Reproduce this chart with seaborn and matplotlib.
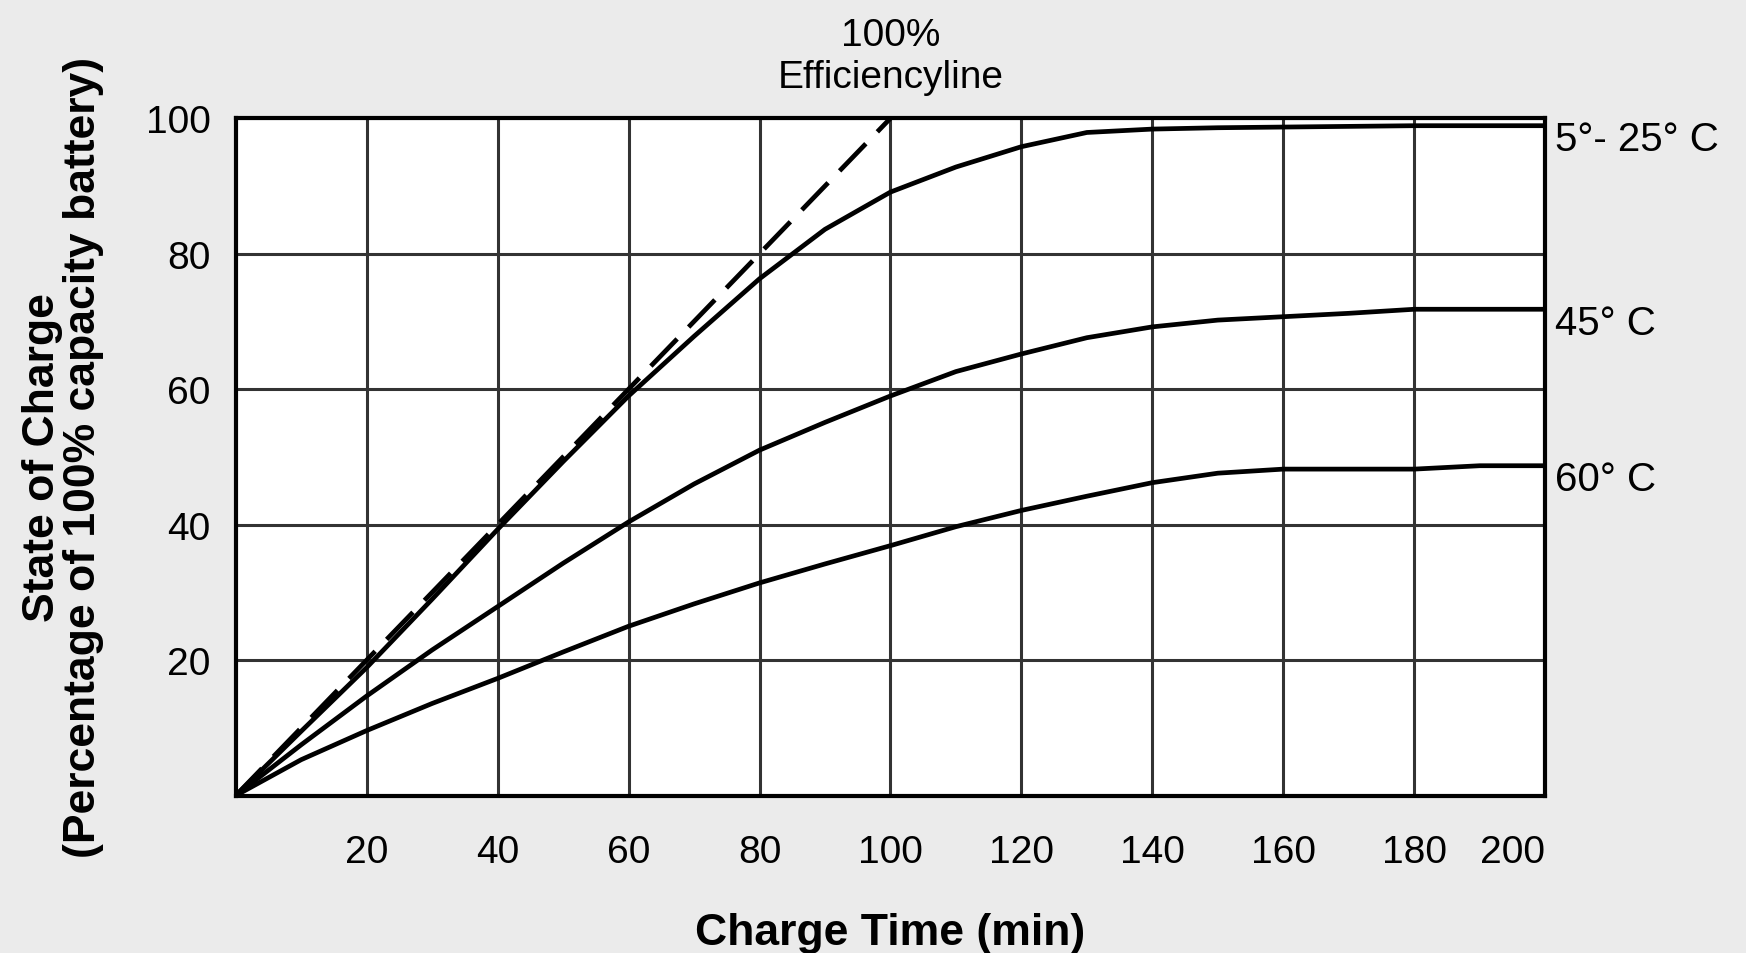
import pandas as pd
import seaborn as sns
import matplotlib.pyplot as plt

# charge time (min) and state of charge (%)
time_pts = [0, 10, 20, 30, 40, 50, 60, 70, 80, 90, 100, 110, 120, 130, 140, 150, 160, 170, 180, 190, 200]
soc_5_25 = [0, 9.5, 18.9, 29, 39.3, 49.3, 59, 67.8, 76.3, 83.6, 89.1, 92.8, 95.8, 97.9, 98.4, 98.6, 98.7, 98.8, 98.9, 98.9, 98.9]
soc_45 = [0, 7.5, 14.7, 21.5, 27.9, 34.3, 40.4, 46, 51, 55.1, 59, 62.6, 65.2, 67.6, 69.2, 70.2, 70.7, 71.2, 71.8, 71.8, 71.8]
soc_60 = [0, 5.3, 9.6, 13.6, 17.3, 21.2, 25, 28.3, 31.4, 34.2, 36.9, 39.7, 42.1, 44.2, 46.2, 47.6, 48.2, 48.2, 48.2, 48.7, 48.7]
series_names = ["5°- 25° C", "45° C", "60° C"]

eff_time = [0, 100]
eff_soc = [0, 100]

x_ticks = [20, 40, 60, 80, 100, 120, 140, 160, 180, 200]
y_ticks = [20, 40, 60, 80, 100]

df = pd.DataFrame({
    "time": time_pts * 3,
    "soc": soc_5_25 + soc_45 + soc_60,
    "temp": [n for n in series_names for _ in time_pts],
})

sns.set_style("white")
plt.rcParams["font.family"] = ["Liberation Sans", "DejaVu Sans"]
plt.rcParams["text.color"] = "black"
plt.rcParams["axes.labelcolor"] = "black"
plt.rcParams["xtick.color"] = "black"
plt.rcParams["ytick.color"] = "black"

fig = plt.figure(figsize=(17.46, 9.54), dpi=100, facecolor="#ebebeb")
ax = fig.add_axes([0.135, 0.165, 0.75, 0.71])
ax.set_facecolor("white")

sns.lineplot(data=df, x="time", y="soc", units="temp", estimator=None,
             color="black", linewidth=3.4, ax=ax, legend=False)
sns.lineplot(x=eff_time, y=eff_soc, color="black", linewidth=3.4, ax=ax, legend=False)
ax.lines[-1].set_dashes([8, 3.5])

ax.set_xlim(0, 200)
ax.set_ylim(0, 100)
ax.set_xticks(x_ticks)
ax.set_yticks(y_ticks)
ax.set_xticklabels([str(v) for v in x_ticks], fontsize=28)
ax.set_yticklabels([str(v) for v in y_ticks], fontsize=28)
ax.get_xticklabels()[-1].set_horizontalalignment("right")
ax.tick_params(axis="x", length=0, pad=28)
ax.tick_params(axis="y", length=0, pad=18)
ax.grid(True, color="#333333", linewidth=2.2)
ax.set_axisbelow(True)
for s in ax.spines.values():
    s.set_color("black")
    s.set_linewidth(3)

ax.set_xlabel("Charge Time (min)", fontsize=32, fontweight="bold", labelpad=30)
ax.set_ylabel("State of Charge\n(Percentage of 100% capacity battery)",
              fontsize=32, fontweight="bold", labelpad=30, linespacing=1.0)

# series labels at right end of each curve
ends = {series_names[0]: soc_5_25[-1], series_names[1]: soc_45[-1], series_names[2]: soc_60[-1]}
for name, val in ends.items():
    ax.text(201.5, val - 2, name, fontsize=29, va="center", ha="left")

ax.text(100, 103.5, "100%\nEfficiencyline", fontsize=28, ha="center", va="bottom",
        linespacing=1.2)

fig.savefig("out.png", dpi=100, facecolor=fig.get_facecolor())
